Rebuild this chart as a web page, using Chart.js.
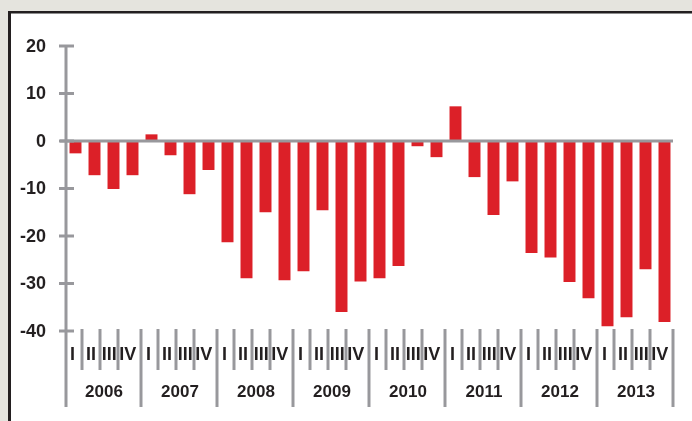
<!DOCTYPE html>
<html>
<head>
<meta charset="utf-8">
<script src="https://cdn.jsdelivr.net/npm/chart.js@4/dist/chart.umd.min.js"></script>
<style>
  html, body { margin: 0; padding: 0; background: #e5e4de; overflow: hidden; }
  #box {
    position: absolute; left: 8px; top: 11px; width: 720px; height: 440px;
    background: #fff;
    border-left: 3px solid #231f20; border-top: 2px solid #231f20;
    box-shadow: inset 0 1px 0 #8d8d8d;
  }
  #chart { position: absolute; left: 0; top: 0; }
</style>
</head>
<body>
<div id="box"></div>
<canvas id="chart" width="692" height="421"></canvas>
<script>
// kwartalen en jaren op de x-as
const years = ['2006', '2007', '2008', '2009', '2010', '2011', '2012', '2013'];
const quarters = ['I', 'II', 'III', 'IV'];
// waarde per kwartaal, 2006-I t/m 2013-IV
const values = [
  -2.6, -7.2, -10.1, -7.2,
  1.4, -3.0, -11.2, -6.1,
  -21.3, -28.9, -15.0, -29.3,
  -27.4, -14.6, -36.0, -29.6,
  -28.9, -26.3, -1.1, -3.4,
  7.3, -7.6, -15.6, -8.5,
  -23.6, -24.5, -29.7, -33.1,
  -39.0, -37.1, -27.0, -38.1
];
const yTicks = [20, 10, 0, -10, -20, -30, -40];

const labels = [];
years.forEach(y => quarters.forEach(q => labels.push(y + ' ' + q)));

const axisGrey = '#98989c';
const textColor = '#231f20';
const fontBig = 'bold 18px "Liberation Sans", Arial, sans-serif';
const fontYear = 'bold 17px "Liberation Sans", Arial, sans-serif';

// assen, nullijn en de kwartaal/jaar-labels zelf tekenen
const axesPlugin = {
  id: 'axes',
  afterDatasetsDraw(chart) {
    const ctx = chart.ctx;
    const x = chart.scales.x;
    const y = chart.scales.y;
    const area = chart.chartArea;
    const step = (area.right - area.left) / labels.length;
    const axisX = area.left;
    const top = y.getPixelForValue(20);
    const bottom = y.getPixelForValue(-40);
    ctx.save();
    ctx.strokeStyle = axisGrey;
    ctx.lineWidth = 3;
    ctx.lineCap = 'butt';

    // nullijn
    const zeroY = y.getPixelForValue(0);
    ctx.beginPath();
    ctx.moveTo(axisX - 6, zeroY);
    ctx.lineTo(area.right - 1, zeroY);
    ctx.stroke();

    // y-as en streepjes
    ctx.beginPath();
    ctx.moveTo(axisX, top);
    ctx.lineTo(axisX, bottom + 76);
    ctx.stroke();
    ctx.fillStyle = textColor;
    ctx.font = fontBig;
    ctx.textAlign = 'right';
    ctx.textBaseline = 'middle';
    yTicks.forEach(v => {
      const py = y.getPixelForValue(v);
      ctx.beginPath();
      ctx.moveTo(axisX - 7, py);
      ctx.lineTo(axisX + 8, py);
      ctx.stroke();
      ctx.fillText(String(v), 46, py + 1);
    });

    // x-as: kwartalen en jaren
    ctx.textAlign = 'center';
    years.forEach((yr, i) => {
      const first = i * 4;
      const left = x.getPixelForValue(first) - step / 2;
      const right = x.getPixelForValue(first + 3) + step / 2;
      ctx.font = fontBig;
      quarters.forEach((q, j) => {
        const cx = x.getPixelForValue(first + j);
        ctx.fillText(q, cx - 3 - j * 0.6, bottom + 24);
        if (j < 3) {
          const lx = cx + step / 2 - 3 - j;
          ctx.beginPath();
          ctx.moveTo(lx, bottom - 2);
          ctx.lineTo(lx, bottom + 39);
          ctx.stroke();
        }
      });
      ctx.beginPath();
      ctx.moveTo(right - 1, bottom - 2);
      ctx.lineTo(right - 1, bottom + 76);
      ctx.stroke();
      ctx.font = fontYear;
      ctx.fillText(yr, (left + right) / 2, bottom + 61);
    });
    ctx.restore();
  }
};

new Chart(document.getElementById('chart'), {
  type: 'bar',
  data: {
    labels: labels,
    datasets: [{
      data: values,
      backgroundColor: '#dc2028',
      borderWidth: 0,
      barPercentage: 0.63,
      categoryPercentage: 1
    }]
  },
  options: {
    responsive: false,
    animation: false,
    devicePixelRatio: 1,
    layout: { padding: { left: 66, right: 18, top: 46, bottom: 90 } },
    plugins: { legend: { display: false }, tooltip: { enabled: false } },
    scales: {
      x: { display: false },
      y: { display: false, min: -40, max: 20 }
    }
  },
  plugins: [axesPlugin]
});
</script>
</body>
</html>
